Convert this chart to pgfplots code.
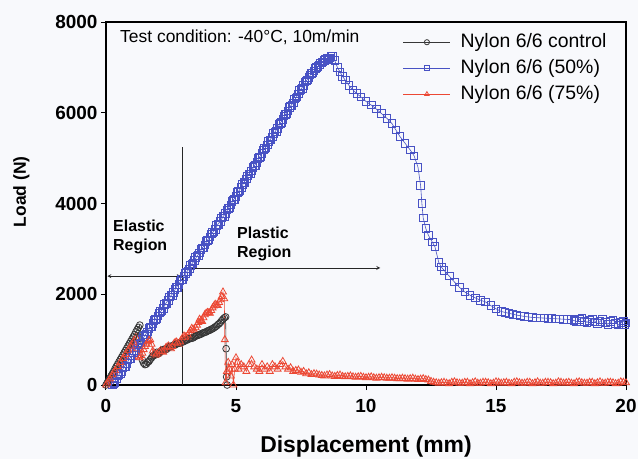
\documentclass[border=0pt]{standalone}
\usepackage{fontspec}
\setmainfont{Liberation Sans}
\usepackage{pgfplots}
\pgfplotsset{compat=1.18}
\definecolor{bgc}{RGB}{248,249,252}
\definecolor{cblue}{RGB}{72,82,196}
\definecolor{cred}{RGB}{236,72,52}
\definecolor{cblack}{RGB}{55,55,55}
\pgfplotsset{
  sblack/.style={cblack, line width=0.6bp, mark=o, mark size=3.4bp, mark options={line width=0.8bp}},
  sblue/.style={cblue, line width=0.6bp, mark=square, mark size=3.8bp, mark options={line width=0.9bp}},
  sred/.style={cred, line width=0.6bp, mark=triangle, mark size=4bp, mark options={line width=0.8bp}},
}
\begin{document}
\begin{tikzpicture}
\useasboundingbox[fill=bgc] (-106bp,-74bp) rectangle (532bp,385bp);
\begin{axis}[
  width=520bp, height=363bp, scale only axis,
  xmin=0, xmax=20, ymin=0, ymax=8000,
  xtick={0,5,...,20}, ytick={0,2000,...,8000},
  tick align=outside, xtick pos=bottom, ytick pos=left,
  major tick length=5bp,
  axis line style={line width=2.5bp},
  tick style={line width=1bp, black},
  ticklabel style={font=\fontsize{19}{19}\selectfont\bfseries},
  /pgf/number format/assume math mode=true,
  /pgf/number format/set thousands separator={},
  scaled y ticks=false,
  xticklabel style={yshift=-6bp},
  xlabel={Displacement (mm)}, ylabel={Load (N)},
  xlabel style={font=\fontsize{23}{23}\selectfont\bfseries, at={([yshift=-67bp]axis description cs:0.5,0)}, anchor=base},
  ylabel style={font=\fontsize{17.5}{17.5}\selectfont\bfseries, at={([xshift=-80bp]axis description cs:0,0.532)}, anchor=base},
  legend style={at={(axis cs:11.42,7757)}, anchor=north west, draw=none, fill=none, inner sep=0pt,
    font=\fontsize{19.5}{19.5}\selectfont,
    nodes={inner sep=0pt, text height=14bp, text depth=4bp},
    row sep=8bp, column sep=10bp},
  legend cell align=left,
  legend image code/.code={\draw[mark repeat=2,mark phase=2,#1,mark size=2.6bp] plot coordinates {(0bp,0bp) (23.5bp,0bp) (47bp,0bp)};},
]
% control
\addplot[sblack] table {
x y
0 0
0.1 100
0.2 200
0.3 300
0.4 410
0.5 510
0.6 610
0.7 710
0.8 810
0.9 910
1.0 1010
1.1 1110
1.2 1220
1.3 1320
1.35 900
1.4 550
1.45 480
1.55 460
1.65 520
1.75 600
1.85 650
1.95 720
2.05 700
2.15 760
2.25 790
2.35 800
2.45 850
2.55 860
2.65 880
2.75 920
2.85 930
2.95 950
3.05 980
3.15 1000
3.25 1030
3.35 1040
3.45 1080
3.55 1100
3.65 1120
3.75 1150
3.85 1170
3.95 1200
4.05 1230
4.15 1260
4.25 1300
4.35 1350
4.45 1420
4.55 1480
4.6 1500
4.62 800
4.64 180
4.66 0
};
\addlegendentry{Nylon 6/6 control}
% 50%
\addplot[sblue] table {
x y
0.25 0
0.3 40
0.4 130
0.5 230
0.6 300
0.7 400
0.8 470
0.9 580
1.0 650
1.1 750
1.2 820
1.3 930
1.4 1000
1.5 1100
1.6 1170
1.7 1280
1.8 1350
1.9 1450
2.0 1520
2.1 1620
2.2 1690
2.3 1800
2.4 1870
2.5 1970
2.6 2040
2.7 2150
2.8 2220
2.9 2320
3.0 2390
3.1 2490
3.2 2560
3.3 2670
3.4 2740
3.5 2840
3.6 2910
3.7 3020
3.8 3090
3.9 3190
4.0 3260
4.1 3360
4.2 3430
4.3 3540
4.4 3610
4.5 3710
4.6 3780
4.7 3890
4.8 3970
4.9 4080
5.0 4160
5.1 4270
5.2 4350
5.3 4460
5.4 4540
5.5 4650
5.6 4720
5.7 4830
5.8 4910
5.9 5020
6.0 5100
6.1 5210
6.2 5290
6.3 5400
6.4 5470
6.5 5580
6.6 5660
6.7 5770
6.8 5850
6.9 5960
7.0 6040
7.1 6150
7.2 6220
7.3 6330
7.4 6410
7.5 6520
7.6 6600
7.7 6700
7.8 6780
7.9 6870
8.0 6920
8.1 7000
8.2 7050
8.3 7110
8.4 7150
8.5 7200
8.6 7210
8.7 7240
8.8 7150
8.9 7000
9.0 6900
9.1 6800
9.2 6720
9.35 6600
9.5 6500
9.65 6420
9.8 6350
10.0 6250
10.2 6170
10.4 6080
10.6 5980
10.8 5880
11.0 5760
11.15 5620
11.3 5480
11.5 5330
11.7 5180
11.85 5050
12.0 4800
12.1 4400
12.15 4000
12.2 3680
12.3 3450
12.4 3300
12.55 3150
12.65 3050
12.8 2700
12.9 2600
13.0 2530
13.2 2400
13.4 2270
13.6 2150
13.8 2050
14.0 1980
14.2 1920
14.4 1870
14.6 1830
14.8 1750
15.0 1680
15.2 1620
15.5 1580
15.8 1540
16.1 1510
16.4 1490
16.7 1480
17.0 1470
17.3 1460
17.6 1450
17.9 1440
18.1 1400
18.3 1480
18.5 1380
18.7 1460
18.9 1350
19.1 1450
19.3 1340
19.5 1430
19.7 1320
19.9 1410
20.0 1370
};
\addlegendentry{Nylon 6/6 (50\%)}
% 75%
\addplot[sred] table {
x y
0 0
0.1 90
0.2 180
0.3 270
0.4 360
0.5 450
0.6 540
0.7 630
0.8 720
0.9 810
1.0 900
1.1 990
1.15 1050
1.2 800
1.25 620
1.3 600
1.4 700
1.5 850
1.6 950
1.7 1000
1.75 900
1.8 750
1.9 650
2.0 700
2.1 760
2.2 720
2.3 820
2.4 860
2.5 800
2.6 900
2.7 950
2.8 900
2.9 1000
3.0 1080
3.1 1050
3.2 1150
3.3 1250
3.4 1200
3.5 1320
3.6 1450
3.7 1400
3.8 1550
3.9 1600
4.0 1580
4.1 1700
4.2 1780
4.3 1750
4.4 1880
4.45 1950
4.5 2050
4.55 1900
4.57 1000
4.6 50
4.65 300
4.7 500
4.75 350
4.8 200
4.85 450
4.9 0
4.95 350
5.0 600
5.05 500
5.1 350
5.2 450
5.3 400
5.4 300
5.5 450
5.6 550
5.7 400
5.8 350
5.9 300
6.0 450
6.1 350
6.2 400
6.3 300
6.4 450
6.5 400
6.6 350
6.7 450
6.8 520
6.9 400
7.0 350
7.1 380
7.2 300
7.3 320
7.4 330
7.5 280
7.6 300
7.7 250
7.8 270
7.9 230
8.0 250
8.2 220
8.4 200
8.6 230
8.8 190
9.0 220
9.2 180
9.4 200
9.6 170
9.8 190
10.0 160
10.2 180
10.4 150
10.6 170
10.8 150
11.0 160
11.2 140
11.4 150
11.6 130
11.8 150
12.0 120
12.2 140
12.4 110
12.6 60
12.8 40
13.0 60
13.2 30
13.4 70
13.6 40
13.8 60
14.0 30
14.2 70
14.4 40
14.6 60
14.8 30
15.0 70
15.2 40
15.4 60
15.6 30
15.8 70
16.0 40
16.2 60
16.4 30
16.6 70
16.8 40
17.0 60
17.2 30
17.4 70
17.6 40
17.8 60
18.0 30
18.2 70
18.4 40
18.6 60
18.8 30
19.0 70
19.2 40
19.4 60
19.6 30
19.8 70
20.0 50
};
\addlegendentry{Nylon 6/6 (75\%)}
% extra recorded points between the ones above (marks only)
\addplot[sblack, only marks, forget plot] table {
x y
0.05 50
0.15 150
0.25 250
0.35 360
0.45 460
0.55 560
0.65 660
0.75 760
0.85 860
0.95 960
1.05 1060
1.15 1170
1.25 1270
1.5 450
1.6 500
1.7 560
1.8 640
1.9 680
2.0 690
2.1 740
2.2 780
2.3 780
2.4 830
2.5 850
2.6 880
2.7 900
2.8 920
2.9 940
3.0 960
3.1 990
3.2 1020
3.3 1030
3.4 1060
3.5 1090
3.6 1110
3.7 1140
3.8 1160
3.9 1190
4.0 1210
4.1 1240
4.2 1280
4.3 1330
4.4 1380
4.5 1450
};
\addplot[sblue, only marks, forget plot] table {
x y
0.35 60
0.45 200
0.55 240
0.65 380
0.75 410
0.85 550
0.95 590
1.05 720
1.15 760
1.25 900
1.35 930
1.45 1070
1.55 1110
1.65 1250
1.75 1280
1.85 1420
1.95 1460
2.05 1590
2.15 1630
2.25 1770
2.35 1800
2.45 1940
2.55 1980
2.65 2110
2.75 2150
2.85 2290
2.95 2330
3.05 2460
3.15 2500
3.25 2640
3.35 2680
3.45 2810
3.55 2850
3.65 2990
3.75 3020
3.85 3160
3.95 3200
4.05 3330
4.15 3370
4.25 3510
4.35 3540
4.45 3680
4.55 3720
4.65 3860
4.75 3900
4.85 4050
4.95 4090
5.05 4240
5.15 4280
5.25 4420
5.35 4470
5.45 4610
5.55 4650
5.65 4800
5.75 4840
5.85 4990
5.95 5030
6.05 5180
6.15 5220
6.25 5370
6.35 5400
6.45 5550
6.55 5590
6.65 5740
6.75 5780
6.85 5930
6.95 5970
7.05 6120
7.15 6160
7.25 6300
7.35 6350
7.45 6490
7.55 6540
7.65 6680
7.75 6720
7.85 6830
7.95 6880
8.05 6980
8.15 7020
8.25 7100
8.35 7120
8.45 7190
8.55 7180
8.65 7240
15.35 1600
15.65 1560
15.95 1520
16.25 1500
16.55 1480
16.85 1475
17.15 1465
17.45 1455
17.75 1445
18.0 1420
18.2 1440
18.4 1400
18.6 1420
18.8 1390
19.0 1400
19.2 1380
19.4 1400
19.6 1360
19.8 1380
19.95 1340
};
\addplot[sred, only marks, forget plot] table {
x y
0.05 45
0.15 135
0.25 225
0.35 315
0.45 405
0.55 495
0.65 585
0.75 675
0.85 765
0.95 855
1.05 945
1.35 650
1.45 780
1.55 900
1.65 980
1.85 700
1.95 680
2.05 730
2.15 740
2.25 770
2.35 840
2.45 830
2.55 850
2.65 930
2.75 920
2.85 950
2.95 1040
3.05 1060
3.15 1100
3.25 1200
3.35 1230
3.45 1260
3.55 1380
3.65 1420
3.75 1480
3.85 1580
3.95 1590
4.05 1640
4.15 1740
4.25 1760
4.35 1820
8.1 240
8.3 210
8.5 220
8.7 200
8.9 210
9.1 190
9.3 190
9.5 180
9.7 180
9.9 170
10.1 170
10.3 160
10.5 160
10.7 160
10.9 150
11.1 150
11.3 140
11.5 140
11.7 140
11.9 130
12.1 130
12.3 120
12.5 80
12.7 50
12.9 50
13.1 40
13.3 60
13.5 50
13.7 40
13.9 60
14.1 50
14.3 40
14.5 60
14.7 50
14.9 40
15.1 60
15.3 50
15.5 40
15.7 60
15.9 50
16.1 40
16.3 60
16.5 50
16.7 40
16.9 60
17.1 50
17.3 40
17.5 60
17.7 50
17.9 40
18.1 60
18.3 50
18.5 40
18.7 60
18.9 50
19.1 40
19.3 60
19.5 50
19.7 40
19.9 60
};
% control after break, along the axis
\addplot[black, line width=2.5bp, forget plot] table {
x y
4.66 0
12.5 0
};
% annotations
\draw[line width=0.8bp, black!85] (axis cs:2.92,0) -- (axis cs:2.92,5245);
\draw[line width=0.8bp, black!85, <->, >=stealth] (axis cs:0.05,2400) -- (axis cs:2.88,2400);
\draw[line width=0.8bp, black!85, ->, >=stealth] (axis cs:3.0,2580) -- (axis cs:10.55,2580);
\node[anchor=north west, inner sep=0pt, align=left, font=\fontsize{16}{19}\selectfont\bfseries] at (axis cs:0.27,3636) {Elastic\\Region};
\node[anchor=north west, inner sep=0pt, align=left, font=\fontsize{16}{19}\selectfont\bfseries] at (axis cs:5.04,3493) {Plastic\\Region};
\node[anchor=north west, inner sep=0pt, font=\fontsize{17.5}{17.5}\selectfont] at (axis cs:0.54,7823) {Test condition: -40°C, 10m/min};
\end{axis}
\end{tikzpicture}
\end{document}
